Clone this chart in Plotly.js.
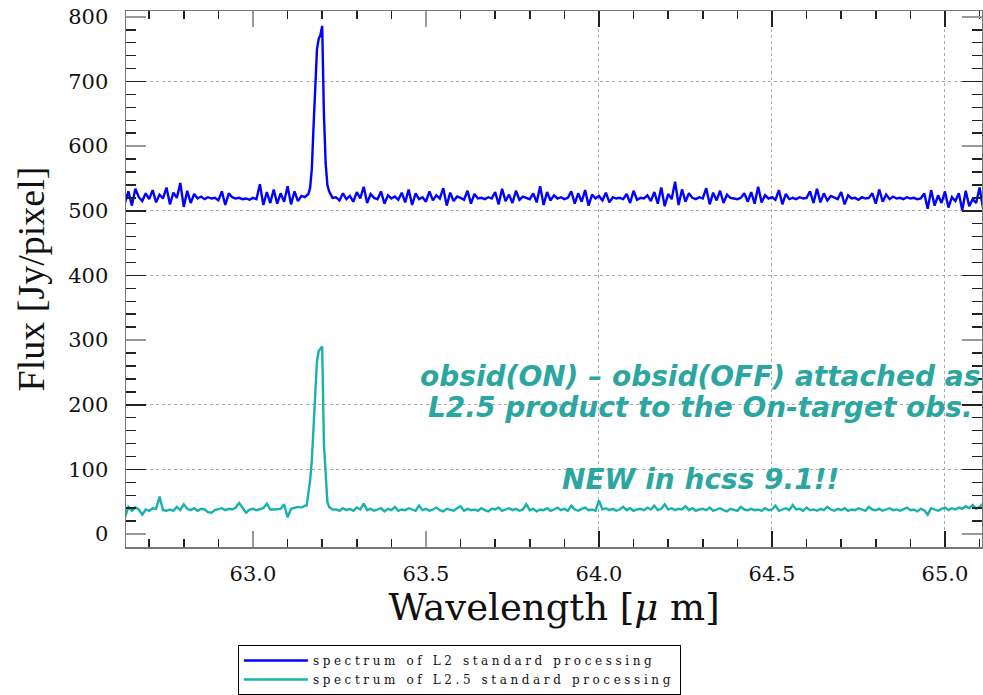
<!DOCTYPE html>
<html>
<head>
<meta charset="utf-8">
<script src="https://cdn.plot.ly/plotly-3.0.1.min.js"></script>
<style>
html,body{margin:0;padding:0;background:#fff;}
#chart{width:983px;height:695px;}
text.legendtext{letter-spacing:3.6px;}
</style>
</head>
<body>
<div id="chart"></div>
<script>
// Wavelength samples (micron)
const wavelengthA = [62.63,62.64,62.65,62.66,62.67,62.68,62.69,62.70,62.71,62.72,62.73,62.74,62.75,62.76,62.77,62.78,62.79,62.80,62.81,62.82,62.83,62.84,62.85,62.86,62.87,62.88,62.89,62.90,62.91,62.92,62.93,62.94,62.95,62.96,62.97,62.98,62.99,63.00,63.01,63.02,63.03,63.04,63.05,63.06,63.07,63.08,63.09,63.10,63.11,63.12,63.13,63.14,63.15];
const wavelengthPeak = [63.155,63.160,63.165,63.170,63.175,63.180,63.185,63.190,63.195,63.200,63.205,63.210,63.215,63.220,63.225,63.230];
const wavelengthB = [63.24,63.25,63.26,63.27,63.28,63.29,63.30,63.31,63.32,63.33,
63.34,63.35,63.36,63.37,63.38,63.39,63.40,63.41,63.42,63.43,
63.44,63.45,63.46,63.47,63.48,63.49,63.50,63.51,63.52,63.53,
63.54,63.55,63.56,63.57,63.58,63.59,63.60,63.61,63.62,63.63,
63.64,63.65,63.66,63.67,63.68,63.69,63.70,63.71,63.72,63.73,
63.74,63.75,63.76,63.77,63.78,63.79,63.80,63.81,63.82,63.83,
63.84,63.85,63.86,63.87,63.88,63.89,63.90,63.91,63.92,63.93,
63.94,63.95,63.96,63.97,63.98,63.99,64.00,64.01,64.02,64.03,
64.04,64.05,64.06,64.07,64.08,64.09,64.10,64.11,64.12,64.13,
64.14,64.15,64.16,64.17,64.18,64.19,64.20,64.21,64.22,64.23,
64.24,64.25,64.26,64.27,64.28,64.29,64.30,64.31,64.32,64.33,
64.34,64.35,64.36,64.37,64.38,64.39,64.40,64.41,64.42,64.43,
64.44,64.45,64.46,64.47,64.48,64.49,64.50,64.51,64.52,64.53,
64.54,64.55,64.56,64.57,64.58,64.59,64.60,64.61,64.62,64.63,
64.64,64.65,64.66,64.67,64.68,64.69,64.70,64.71,64.72,64.73,
64.74,64.75,64.76,64.77,64.78,64.79,64.80,64.81,64.82,64.83,
64.84,64.85,64.86,64.87,64.88,64.89,64.90,64.91,64.92,64.93,
64.94,64.95,64.96,64.97,64.98,64.99,65.00,65.01,65.02,65.03,
65.04,65.05,65.06,65.07,65.08,65.09,65.10,65.11,65.12];

// L2 standard processing flux (Jy/pixel)
const fluxL2A = [512,530,508,534,521,515,527,518,532,513,525,519,536,510,528,520,543,506,531,512,526,519,522,518,521,519,520,516,530,509,527,521,519,520,518,519,517,520,518,541,509,529,512,533,511,527,514,538,510,530,515,523,521];
const fluxL2Peak = [523,526,535,564,630,703,750,766,772,786,650,574,540,530,526,520];
const fluxL2B = [521,516,527,518,523,514,529,519,537,512,
526,520,518,530,511,524,519,522,517,528,
513,533,509,527,518,521,514,530,516,524,
519,535,508,528,515,522,520,517,531,511,
526,519,520,518,521,519,529,510,534,515,
525,512,531,517,522,520,518,527,513,538,
509,529,516,524,519,521,518,520,530,511,
527,514,532,508,525,519,523,516,528,513,
521,519,520,518,526,512,531,517,520,519,
524,515,529,511,536,507,526,518,545,509,
533,514,527,520,518,521,519,535,510,528,
516,531,512,525,520,519,518,520,527,514,
529,511,537,513,524,519,521,517,532,510,
526,518,520,518,521,519,520,530,512,534,
513,527,516,523,520,518,529,510,524,519,
520,517,521,519,520,527,511,533,514,525,
518,522,519,520,518,521,519,520,518,519,
527,503,532,508,524,512,530,505,521,515,
527,501,531,507,518,512,536,504,524];

// L2.5 standard processing flux (Jy/pixel)
const fluxL25A = [26,42,36,41,38,30,38,36,40,39,58,37,36,38,36,42,37,46,39,37,40,36,39,38,34,33,37,38,40,37,39,38,41,48,40,33,38,39,37,38,40,47,38,38,38,39,46,26,39,40,42,41,44];
const fluxL25Peak = [44,60,82,113,170,225,268,283,287,290,140,85,50,42,40,38];
const fluxL25B = [38,36,40,37,39,36,41,38,47,37,
39,36,38,40,35,39,37,42,36,38,
37,40,38,36,44,37,39,36,38,41,
37,35,39,38,36,40,43,36,39,37,
38,36,40,37,35,39,38,41,36,38,
40,37,39,36,38,46,37,39,35,38,
37,40,36,38,41,37,39,36,44,38,
36,39,41,37,38,36,52,38,40,37,
39,36,38,42,37,40,36,38,39,37,
41,38,44,37,39,46,38,40,37,39,
38,43,37,40,36,38,39,37,41,36,
38,40,37,35,39,38,36,42,38,37,
39,37,38,36,40,37,38,44,36,38,
40,37,45,38,39,36,41,37,38,36,
39,37,42,38,36,39,37,40,36,38,
37,40,38,36,42,38,37,39,36,38,
40,37,38,36,39,41,37,38,35,39,
37,30,40,38,36,39,41,37,40,38,
41,39,43,40,45,39,42,47,44];

const seriesNames = ['spectrum of L2 standard processing', 'spectrum of L2.5 standard processing'];
const noteLines = ['obsid(ON) \u2013 obsid(OFF) attached as', 'L2.5 product to the On-target obs.', 'NEW in hcss 9.1!!'];
// tick values that carry a dotted grid line in the reference
const gridX = [64.0, 64.5, 65.0];
const gridY = [100, 200, 400, 500, 700];

const wavelength = wavelengthA.concat(wavelengthPeak, wavelengthB);
const fluxL2 = fluxL2A.concat(fluxL2Peak, fluxL2B);
const fluxL25 = fluxL25A.concat(fluxL25Peak, fluxL25B);

const teal = 'rgb(43,166,160)';
const traces = [
  {x: wavelength, y: fluxL2, type: 'scatter', mode: 'lines', name: seriesNames[0],
   line: {color: '#0000ff', width: 2.4}},
  {x: wavelength, y: fluxL25, type: 'scatter', mode: 'lines', name: seriesNames[1],
   line: {color: '#17b2ae', width: 2.4}},
  // empty trace that activates the overlaid grid axes
  {x: [], y: [], type: 'scatter', mode: 'lines', xaxis: 'x2', yaxis: 'y2', showlegend: false, hoverinfo: 'skip'}
];

const serif = 'DejaVu Serif, serif';
const xRange = [62.633, 65.107];
const yRange = [-20, 809];
const axisCommon = {
  showline: true, linecolor: '#777', linewidth: 1.5, mirror: 'ticks',
  ticks: 'inside', tickcolor: '#999', tickwidth: 1.5,
  showgrid: false, zeroline: false,
  tickfont: {family: serif, size: 21, color: '#111'}
};
const gridCommon = {
  showline: false, ticks: 'inside', tickcolor: '#222', tickwidth: 1.5, mirror: 'allticks',
  showticklabels: false, showgrid: true, gridcolor: '#aaa', griddash: 'dot', gridwidth: 1,
  zeroline: false
};
const annFont = {family: 'DejaVu Sans, sans-serif', size: 28, color: teal, weight: 'bold', style: 'italic'};

const layout = {
  width: 983, height: 695,
  margin: {l: 126, r: 1, t: 11, b: 147},
  paper_bgcolor: '#fff', plot_bgcolor: '#fff',
  showlegend: true,
  xaxis: Object.assign({}, axisCommon, {
    range: xRange, dtick: 0.5, tick0: 63, ticklen: 16, tickformat: '.1f',
    minor: {dtick: 0.1, ticklen: 8, ticks: 'inside', tickcolor: '#222', tickwidth: 1.5, showgrid: false},
    ticklabelstandoff: 7,
    title: {text: 'Wavelength [<i>\u03bc</i> m]', font: {family: serif, size: 37, color: '#111'}, standoff: 0}
  }),
  yaxis: Object.assign({}, axisCommon, {
    range: yRange, dtick: 100, tick0: 0, ticklen: 20,
    minor: {dtick: 20, ticklen: 10, ticks: 'inside', tickcolor: '#222', tickwidth: 1.5, showgrid: false},
    ticklabelstandoff: 12,
    title: {text: 'Flux [Jy/pixel]', font: {family: 'Liberation Serif, serif', size: 38, color: '#111'}, standoff: 12}
  }),
  xaxis2: Object.assign({}, gridCommon, {overlaying: 'x', anchor: 'y2', side: 'bottom', range: xRange, tickmode: 'array', tickvals: gridX, ticklen: 16}),
  yaxis2: Object.assign({}, gridCommon, {overlaying: 'y', anchor: 'x2', side: 'left', range: yRange, tickmode: 'array', tickvals: gridY, ticklen: 20}),
  legend: {
    x: 0.1307, y: -0.1806, xanchor: 'left', yanchor: 'top',
    bordercolor: '#000', borderwidth: 1, bgcolor: '#fff',
    font: {family: serif, size: 12, color: '#111'}, tracegroupgap: 0,
    itemwidth: 64
  },
  annotations: [
    {text: noteLines[0], xref: 'paper', yref: 'y', x: 0.6706, y: 243, showarrow: false, xanchor: 'center', yanchor: 'middle', font: annFont},
    {text: noteLines[1], xref: 'paper', yref: 'y', x: 0.6706, y: 195, showarrow: false, xanchor: 'center', yanchor: 'middle', font: annFont},
    {text: noteLines[2], xref: 'paper', yref: 'y', x: 0.6706, y: 84, showarrow: false, xanchor: 'center', yanchor: 'middle', font: annFont}
  ]
};

Plotly.newPlot('chart', traces, layout, {displayModeBar: false, staticPlot: true});
</script>
</body>
</html>
